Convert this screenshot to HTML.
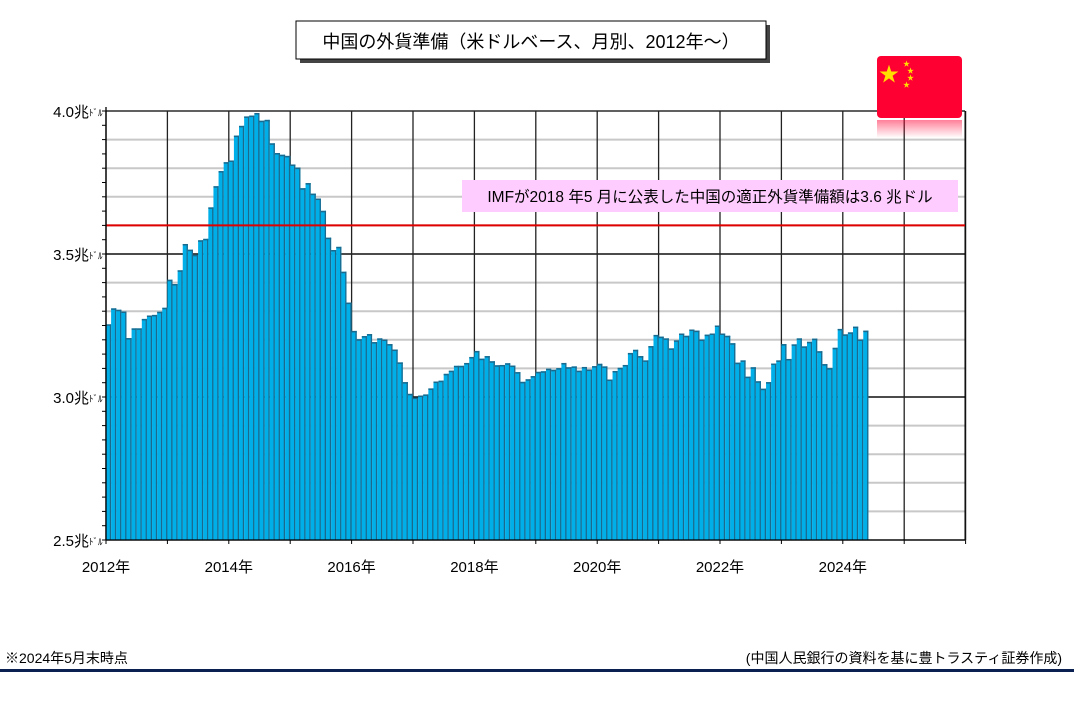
<!DOCTYPE html>
<html><head><meta charset="utf-8"><style>
body{margin:0;background:#fff;width:1074px;height:707px;overflow:hidden;font-family:"Liberation Sans","Noto Sans CJK JP",sans-serif}
svg text{font-family:"Liberation Sans","Noto Sans CJK JP",sans-serif}
</style></head><body>
<svg id="c" width="1074" height="707">
<defs><linearGradient id="fl" x1="0" y1="0" x2="0" y2="1"><stop offset="0" stop-color="#ff0033" stop-opacity="0.5"/><stop offset="1" stop-color="#ff0033" stop-opacity="0"/></linearGradient></defs>
<g>
<rect x="300" y="25" width="470" height="38" fill="#444"/>
<rect x="296" y="21" width="470" height="38" fill="#fff" stroke="#000" stroke-width="1"/>
<text x="531" y="48" font-size="18" text-anchor="middle" fill="#000">中国の外貨準備（米ドルベース、月別、2012年～）</text>
</g>
<g id="grid"></g>
<g id="bars"></g>
<g id="axes"></g>
<g>
<rect x="877" y="56" width="85" height="62" rx="4" fill="#ff0033"/>
<rect x="877" y="120" width="85" height="18" fill="url(#fl)"/>
<text x="889" y="81" font-size="20" fill="#ffde00" text-anchor="middle">★</text>
<text x="903" y="66" font-size="7" fill="#ffde00">★</text>
<text x="907" y="73" font-size="7" fill="#ffde00">★</text>
<text x="907" y="80" font-size="7" fill="#ffde00">★</text>
<text x="903" y="87" font-size="7" fill="#ffde00">★</text>
</g>
<g>
<rect x="462" y="180" width="496" height="32" fill="#ffccff"/>
<text x="710" y="202" font-size="15.5" text-anchor="middle" fill="#000">IMFが2018 年5 月に公表した中国の適正外貨準備額は3.6 兆ドル</text>
</g>
<text x="5" y="663" font-size="14" fill="#000">※2024年5月末時点</text>
<text x="1062" y="663" font-size="14" text-anchor="end" fill="#000">(中国人民銀行の資料を基に豊トラスティ証券作成)</text>
<rect x="0" y="669" width="1074" height="3" fill="#0a2050"/>
</svg>
<script>
const values=[3.254,3.31,3.305,3.299,3.206,3.240,3.240,3.273,3.285,3.287,3.298,3.312,
3.410,3.395,3.443,3.535,3.515,3.497,3.548,3.553,3.663,3.737,3.790,3.821,
3.827,3.914,3.948,3.981,3.984,3.993,3.966,3.969,3.887,3.853,3.847,3.843,
3.813,3.802,3.730,3.748,3.711,3.694,3.651,3.557,3.514,3.525,3.438,3.330,
3.231,3.202,3.213,3.220,3.192,3.205,3.201,3.185,3.166,3.121,3.052,3.011,
2.998,3.005,3.009,3.030,3.054,3.057,3.081,3.092,3.109,3.109,3.119,3.140,
3.161,3.134,3.143,3.125,3.111,3.112,3.118,3.110,3.087,3.053,3.062,3.073,
3.088,3.090,3.099,3.095,3.101,3.119,3.104,3.107,3.092,3.105,3.096,3.108,
3.116,3.107,3.061,3.091,3.102,3.112,3.154,3.165,3.143,3.128,3.178,3.217,
3.211,3.205,3.170,3.198,3.222,3.214,3.236,3.232,3.201,3.218,3.222,3.250,
3.222,3.214,3.188,3.120,3.128,3.071,3.104,3.055,3.029,3.052,3.117,3.128,
3.185,3.133,3.184,3.205,3.177,3.193,3.204,3.160,3.115,3.101,3.172,3.238,
3.219,3.226,3.246,3.201,3.232];
const yTicks=[2.5,3.0,3.5,4.0];
const yLabels=["2.5","3.0","3.5","4.0"];
const xYears=[2012,2014,2016,2018,2020,2022,2024];
const threshold=3.6;
const L=106,R=965,T=111,B=540,YMIN=2.5,YMAX=4.0,YW=61.4;
const y=v=>B-(v-YMIN)/(YMAX-YMIN)*(B-T);
const xm=i=>L+i*YW/12;
const xy=yr=>L+(yr-2012)*YW;
const NS="http://www.w3.org/2000/svg";
function mk(p,t,a){const e=document.createElementNS(NS,t);for(const k in a)e.setAttribute(k,a[k]);p.appendChild(e);return e;}
const G=document.getElementById('grid'),Bg=document.getElementById('bars'),A=document.getElementById('axes');
for(let v=2.6;v<4.0;v+=0.1){const l=mk(G,'line',{x1:L,x2:R,y1:y(v),y2:y(v),stroke:'#c8c8c8','stroke-width':2});

}
yTicks.forEach(v=>{const l=mk(G,'line',{x1:L,x2:R,y1:y(v),y2:y(v),stroke:'#000','stroke-width':1.3});

});
for(let yr=2012;yr<=2026;yr++){const l=mk(G,'line',{x1:xy(yr),x2:xy(yr),y1:T,y2:B,stroke:'#222','stroke-width':1.3});

}
mk(G,'line',{x1:R,x2:R,y1:T,y2:B,stroke:'#000','stroke-width':1});
const bw=YW/12;
values.forEach((v,i)=>{const x0=xm(i),yt=y(v);
const r=mk(Bg,'rect',{x:x0,y:yt,width:bw,height:B-yt,fill:'#00aee8'});


mk(Bg,'rect',{x:x0+bw-1.3,y:yt,width:1.3,height:B-yt,fill:'#1b6a8e'});
mk(Bg,'rect',{x:x0,y:yt,width:bw,height:1.5,fill:'#1b6a8e'});});
const rl=mk(A,'line',{x1:L,x2:R,y1:y(threshold),y2:y(threshold),stroke:'#e00000','stroke-width':2});


mk(A,'line',{x1:L,x2:L,y1:T-4,y2:B,stroke:'#000','stroke-width':1.3});
mk(A,'line',{x1:L,x2:R,y1:B,y2:B,stroke:'#000','stroke-width':1.3});
for(let v=2.5;v<=4.001;v+=0.05){mk(A,'line',{x1:L-4,x2:L,y1:y(v),y2:y(v),stroke:'#000'});}
for(let yr=2012;yr<=2026;yr++){mk(A,'line',{x1:xy(yr),x2:xy(yr),y1:B,y2:B+4,stroke:'#000'});}
yTicks.forEach((v,k)=>{const t=mk(A,'text',{x:L-17,y:y(v)+6,'font-size':15,'text-anchor':'end',fill:'#000'});
t.textContent=yLabels[k]+'兆';


const s=mk(A,'text',{x:L-17,y:y(v)+5,'font-size':9,fill:'#000'});s.textContent='ﾄﾞﾙ';});
xYears.forEach(yr=>{const t=mk(A,'text',{x:xy(yr),y:572,'font-size':15,'text-anchor':'middle',fill:'#000'});
t.textContent=yr+'年';

});
</script>
</body></html>
